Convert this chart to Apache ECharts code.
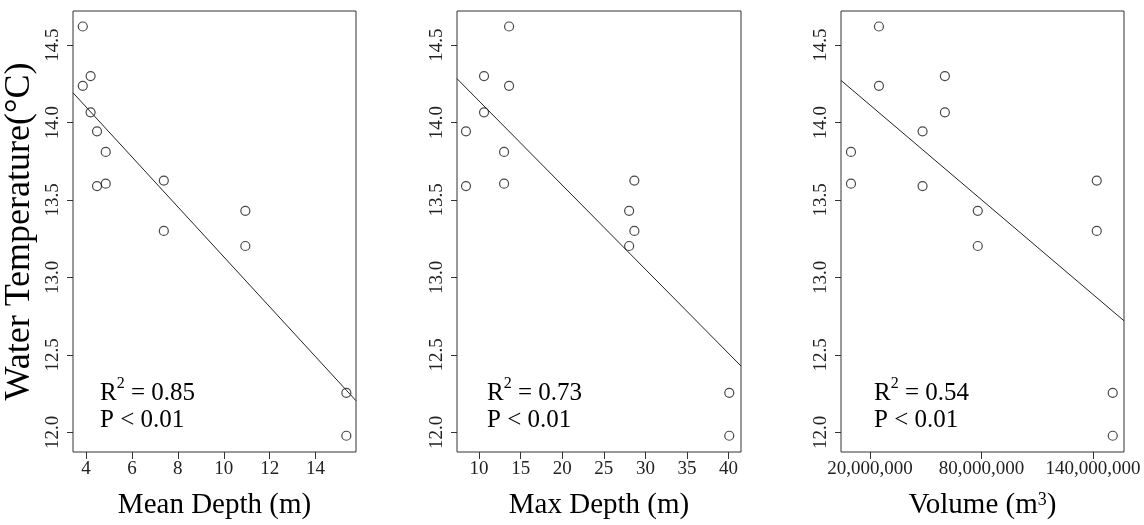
<!DOCTYPE html>
<html>
<head>
<meta charset="utf-8">
<script src="https://cdn.jsdelivr.net/npm/echarts@6/dist/echarts.min.js"></script>
<style>
  html, body { margin: 0; padding: 0; background: #fff; }
  #chart { width: 1144px; height: 525px; }
</style>
</head>
<body>
<div id="chart"></div>
<script>
// water temperature of each lake (same order in every panel)
const tempC = [14.62, 14.30, 14.237, 14.066, 13.943, 13.81, 13.605, 13.59, 13.625, 13.43, 13.30, 13.203, 12.255, 11.978];
const meanDepth = [3.86, 4.2, 3.86, 4.2, 4.48, 4.86, 4.86, 4.48, 7.39, 10.94, 7.39, 10.94, 15.34, 15.34];
const maxDepth = [13.61, 10.6, 13.61, 10.6, 8.43, 13.01, 13.01, 8.43, 28.67, 28.04, 28.67, 28.04, 40.08, 40.08];
const volume = [24840000, 60300000, 24840000, 60300000, 48300000, 9790000, 9790000, 48300000,
                142000000, 78000000, 142000000, 78000000, 150600000, 150600000];

// fitted regression lines (end points)
const fitMean = [[3.434, 14.192], [15.76, 12.204]];
const fitMax = [[7.35, 14.283], [41.49, 12.428]];
const fitVol = [[4420000, 14.272], [156660000, 12.72]];

const tempTicks = [12.0, 12.5, 13.0, 13.5, 14.0, 14.5];
const meanTicks = [4, 6, 8, 10, 12, 14];
const maxTicks = [10, 15, 20, 25, 30, 35, 40];
const volTicks = [20000000, 80000000, 140000000];

const xNames = ['Mean Depth (m)', 'Max Depth (m)', 'Volume (m{s|3})'];
const r2 = ['0.85', '0.73', '0.54'];
const pText = ['P < 0.01', 'P < 0.01', 'P < 0.01'];

const chart = echarts.init(document.getElementById('chart'));
const font = 'Liberation Serif';

const grids = [
  { left: 73, top: 11, width: 283, height: 441 },
  { left: 457, top: 11, width: 284, height: 441 },
  { left: 841, top: 11, width: 283, height: 441 }
];
const xRanges = [[3.434, 15.76], [7.35, 41.49], [4420000, 156660000]];
const xTicks = [meanTicks, maxTicks, volTicks];

function pairs(xs) {
  return xs.map((x, i) => [x, tempC[i]]);
}

const xAxis = xRanges.map((r, i) => ({
  type: 'value',
  gridIndex: i,
  min: r[0],
  max: r[1],
  name: xNames[i],
  nameLocation: 'middle',
  nameGap: 39,
  nameTextStyle: {
    fontFamily: font, fontSize: 29, color: '#000',
    rich: { s: { fontFamily: font, fontSize: 18, color: '#000', verticalAlign: 'top' } }
  },
  axisLine: { show: false },
  splitLine: { show: false },
  axisTick: { show: true, length: 7, lineStyle: { color: '#333' }, customValues: xTicks[i] },
  axisLabel: {
    customValues: xTicks[i],
    margin: 8,
    fontFamily: font, fontSize: 19, color: '#222',
    formatter: v => i === 2 ? Number(v).toLocaleString('en-US') : String(v)
  }
}));

const yAxis = [0, 1, 2].map(i => ({
  type: 'value',
  gridIndex: i,
  min: 11.873,
  max: 14.72,
  name: i === 0 ? 'Water Temperature(°C)' : '',
  nameLocation: 'middle',
  nameGap: 35,
  nameTextStyle: { fontFamily: font, fontSize: 36, color: '#000' },
  axisLine: { show: false },
  splitLine: { show: false },
  axisTick: { show: true, length: 6, lineStyle: { color: '#333' }, customValues: tempTicks },
  axisLabel: {
    customValues: tempTicks,
    rotate: 90,
    margin: 10,
    fontFamily: font, fontSize: 19, color: '#222',
    formatter: v => Number(v).toFixed(1)
  }
}));

const series = [];
[meanDepth, maxDepth, volume].forEach((xs, i) => {
  series.push({
    type: 'scatter',
    xAxisIndex: i, yAxisIndex: i,
    symbol: 'circle',
    symbolSize: 9,
    itemStyle: { color: 'rgba(0,0,0,0)', borderColor: '#1a1a1a', borderWidth: 1.2 },
    data: pairs(xs)
  });
});
[fitMean, fitMax, fitVol].forEach((d, i) => {
  series.push({
    type: 'line',
    xAxisIndex: i, yAxisIndex: i,
    symbol: 'none',
    lineStyle: { color: '#222', width: 1 },
    data: d
  });
});

const textX = [100, 487, 874];
const graphic = [];
r2.forEach((v, i) => {
  graphic.push({
    type: 'text', left: textX[i], top: 376,
    style: {
      text: '{a|R}{s|2}{a| = ' + v + '}',
      rich: {
        a: { font: '25px "Liberation Serif"', fill: '#000', lineHeight: 30, verticalAlign: 'bottom' },
        s: { font: '16px "Liberation Serif"', fill: '#000', verticalAlign: 'top' }
      }
    }
  });
  graphic.push({
    type: 'text', left: textX[i], top: 408,
    style: { text: pText[i], font: '25px "Liberation Serif"', fill: '#000' }
  });
});

chart.setOption({
  animation: false,
  backgroundColor: '#fff',
  grid: grids.map(g => Object.assign({ show: true, borderColor: '#333', borderWidth: 1 }, g)),
  xAxis: xAxis,
  yAxis: yAxis,
  series: series,
  graphic: graphic
});
</script>
</body>
</html>
